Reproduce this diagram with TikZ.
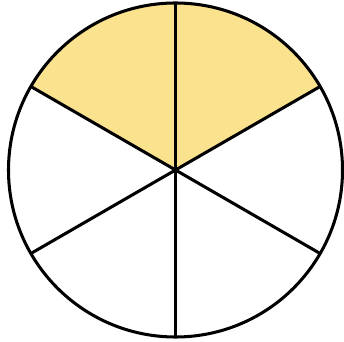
\documentclass[tikz,border=0pt]{standalone}
\usepackage{xcolor}
\usepackage{tikz}
\definecolor{sectoryellow}{RGB}{251,226,143}

\begin{document}
\begin{tikzpicture}[
  x=0.03cm, y=0.03cm,
  rim/.style={draw, line width=2.6pt},
  spoke/.style={draw, line width=2.6pt}
]
\useasboundingbox (0,0) rectangle (344,341);
\coordinate (O) at (175.5,171);

\fill[sectoryellow] (O) -- ++(30:167) arc[start angle=30, end angle=150, radius=167] -- cycle;
\draw[rim] (O) circle[radius=167];

\foreach \a in {30,90,...,330}
  \draw[spoke] (O) -- ++(\a:167);

\end{tikzpicture}
\end{document}
